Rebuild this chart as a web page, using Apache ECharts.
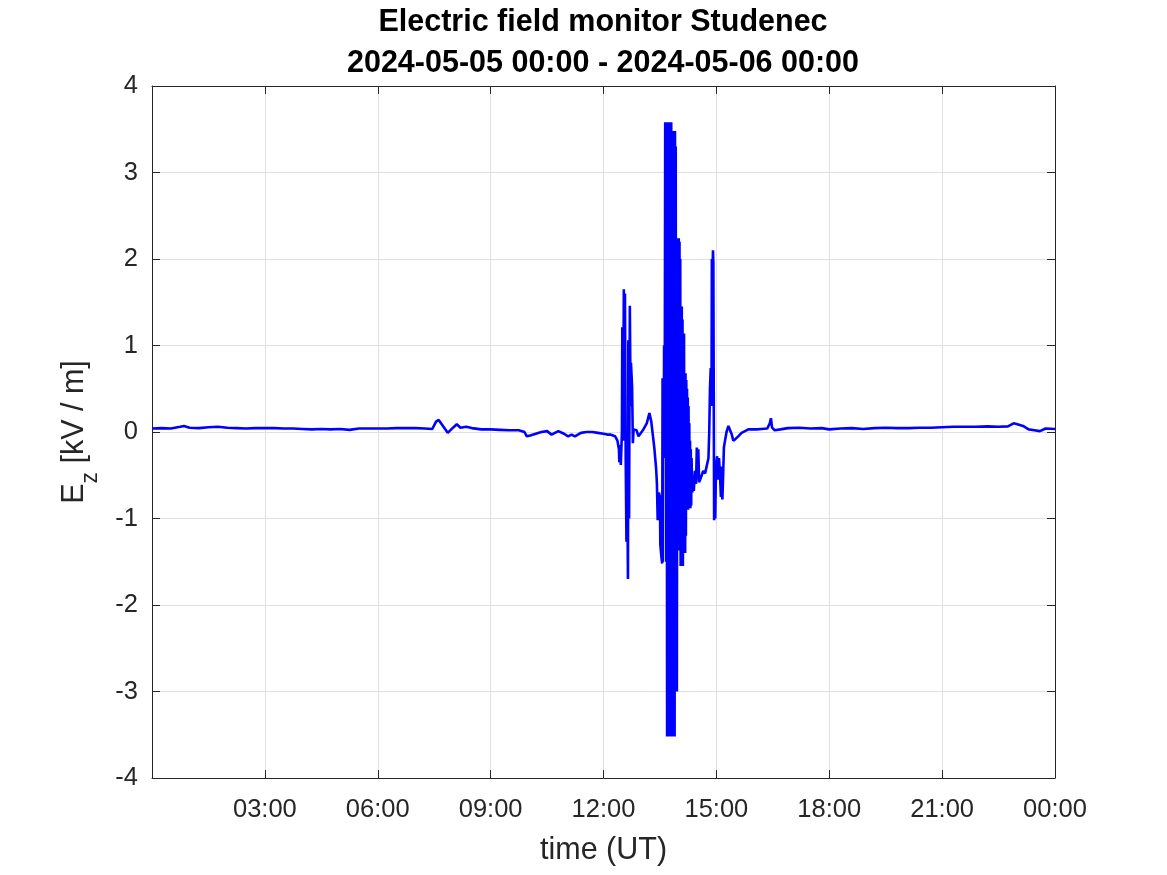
<!DOCTYPE html>
<html>
<head>
<meta charset="utf-8">
<script src="https://cdn.jsdelivr.net/npm/echarts@6/dist/echarts.min.js"></script>
<style>
html,body{margin:0;padding:0;background:#fff;}
#chart{width:1167px;height:875px;}
</style>
</head>
<body>
<div id="chart"></div>
<script>
// ---- DATA (hours UT, Ez in kV/m) ----
var titleLines = ['Electric field monitor Studenec', '2024-05-05 00:00 - 2024-05-06 00:00'];
var xTickHours = [0, 3, 6, 9, 12, 15, 18, 21, 24];
var yTicks = [-4, -3, -2, -1, 0, 1, 2, 3, 4];

var quietHoursA = [0.00,0.25,0.50,0.75,0.85,1.00,1.25,1.50,1.75,2.00,2.25,2.50,2.75,3.00,3.25,3.50,3.75,4.00,4.25,4.50,4.75,5.00,5.25,5.50,5.75,6.00,6.25,6.50,6.75,7.00,7.25,7.45,7.55,7.62,7.70,7.86,8.00,8.10,8.20,8.35,8.50,8.75,9.00,9.25,9.50,9.75,9.90,9.96,10.05,10.20,10.35,10.50,10.62,10.80,10.95,11.06,11.15,11.24,11.40,11.55,11.70,11.85,12.00,12.10];
var quietEzA    = [0.04,0.045,0.04,0.06,0.07,0.05,0.045,0.055,0.06,0.05,0.045,0.04,0.045,0.045,0.045,0.04,0.04,0.035,0.03,0.035,0.03,0.035,0.025,0.04,0.04,0.04,0.04,0.045,0.045,0.045,0.04,0.035,0.12,0.14,0.09,-0.01,0.05,0.09,0.05,0.06,0.045,0.03,0.03,0.025,0.02,0.02,0.0,-0.05,-0.04,-0.02,0.0,0.01,-0.03,0.01,-0.02,-0.05,-0.03,-0.05,-0.01,0.0,0.0,-0.01,-0.02,-0.03];

var stormHours = [12.18,12.31,12.37,12.41,12.42,12.44,12.46,12.49,12.50,12.52,12.54,12.56,12.57,12.59,12.61,12.63,12.65,12.66,12.68,12.70,12.72,12.73,12.76,12.78,12.80,12.84,12.88,12.93,12.97,13.06,13.15,13.22,13.27,13.31,13.35,13.40,13.42,13.44,13.47,13.50,13.51,13.54,13.56,13.57,13.58,13.59,13.60,13.61,13.62,13.63,
  13.640,13.650,13.660,13.670,13.680,13.690,13.700,13.710,13.720,13.730,13.740,13.750,13.760,13.770,13.780,13.790,13.800,13.810,13.820,13.830,13.840,13.850,13.860,13.870,13.880,13.890,13.900,13.910,13.920,13.930,13.940,13.950,13.960,13.970,13.980,13.990,14.000,14.010,14.020,14.030,14.040,14.050,14.060,14.070,14.080,14.090,14.100,14.110,14.120,14.130,14.140,14.150,14.160,14.170,14.180,14.190,14.200,14.210,14.220,14.230,14.240,14.250,14.260,14.270,14.280,14.290,14.300,14.310,14.320,14.330,14.340,14.360,14.380,14.400,14.430,14.460,14.480,14.500,14.520,14.540,
  14.57,14.61,14.65,14.70,14.74,14.79,14.81,14.83,14.85,14.87,14.88,14.90,14.91,14.92,14.94,14.96,14.97,14.99,15.02,15.04,15.07,15.10,15.12,15.13,15.16,15.18,15.20,15.23,15.27,15.32,15.36,15.41,15.45,15.51,15.58,15.67,15.76,15.85,16.07];
var stormEz    = [-0.03,-0.05,-0.1,-0.2,-0.35,-0.15,-0.38,0.0,1.21,-0.1,1.65,0.0,1.6,-0.3,-1.27,-0.5,-1.70,1.06,-1.0,1.46,0.3,0.8,0.52,-0.13,0.03,0.02,0.02,-0.05,-0.03,0.03,0.1,0.22,0.12,0.1,-0.18,-0.43,-0.6,-1.02,-0.7,-0.75,-1.3,-1.45,-1.52,0.62,-1.5,0.62,-0.3,1.0,-0.3,1.0,
  3.58,-0.3,3.58,-1.5,3.58,-3.52,3.58,-3.52,3.58,-3.52,3.58,-3.52,3.58,-3.52,3.58,-3.52,3.58,-3.52,3.48,-3.52,3.48,-3.52,3.48,-3.52,3.48,-3.52,3.48,-3.0,3.3,-3.0,1.66,-3.0,1.84,-0.65,2.24,-1.37,2.24,-1.37,2.2,-1.37,2.0,-1.55,1.45,-1.55,1.45,-1.55,1.3,-1.55,1.14,-1.40,1.14,-1.40,0.68,-1.40,0.68,-1.2,0.6,-0.9,0.5,-0.9,0.4,-0.9,0.3,-0.88,0.1,-0.88,-0.1,-0.88,-0.2,-0.85,-0.3,-0.7,-0.5,-0.68,-0.45,-0.6,-0.18,-0.55,-0.2,-0.58,
  -0.55,-0.5,-0.45,-0.48,-0.4,-0.3,0.0,0.5,0.74,0.3,2.0,1.9,2.1,1.95,-1.02,-0.5,-1.0,-0.4,-0.28,-0.55,-0.3,-0.53,-0.75,-0.4,-0.78,-0.5,-0.18,-0.1,0.0,0.07,0.08,-0.03,-0.1,-0.08,-0.05,-0.01,0.01,0.03,0.03];

var quietHoursB = [16.20,16.35,16.42,16.45,16.48,16.55,16.70,16.90,17.20,17.50,17.80,18.00,18.30,18.60,18.90,19.20,19.50,19.80,20.10,20.40,20.70,21.00,21.30,21.60,21.90,22.20,22.50,22.75,22.90,23.00,23.15,23.30,23.45,23.60,23.75,24.00];
var quietEzB    = [0.035,0.04,0.1,0.16,0.05,0.02,0.03,0.045,0.05,0.04,0.045,0.03,0.04,0.045,0.035,0.045,0.05,0.045,0.045,0.05,0.05,0.055,0.06,0.06,0.06,0.065,0.06,0.065,0.1,0.09,0.07,0.03,0.02,0.01,0.04,0.035];

// ---- build series data ----
function pairs(h, v){ var out=[]; for (var i=0;i<h.length;i++) out.push([h[i], v[i]]); return out; }
var seriesData = pairs(quietHoursA, quietEzA).concat(pairs(stormHours, stormEz), pairs(quietHoursB, quietEzB));

function pad2(n){ return (n<10?'0':'')+n; }
var FONT = '"Liberation Sans", Arial, Helvetica, sans-serif';
var AX = '#262626';

var chart = echarts.init(document.getElementById('chart'), null, {renderer:'canvas'});
var xCommon = {
  type:'value', min:xTickHours[0], max:xTickHours[xTickHours.length-1], interval:3,
  axisLine:{show:true, onZero:false, lineStyle:{color:AX, width:1}},
  axisTick:{show:true, inside:true, length:8, lineStyle:{color:AX}},
  splitLine:{show:false}
};
var yCommon = {
  type:'value', min:yTicks[0], max:yTicks[yTicks.length-1], interval:1,
  axisLine:{show:true, onZero:false, lineStyle:{color:AX, width:1}},
  axisTick:{show:true, inside:true, length:8, lineStyle:{color:AX}},
  splitLine:{show:false}
};
chart.setOption({
  animation:false,
  backgroundColor:'#ffffff',
  title:{
    text: titleLines.join('\n'),
    left:603, top:2, textAlign:'center', padding:0,
    textStyle:{fontFamily:FONT, fontSize:30.5, fontWeight:'bold', color:'#000', lineHeight:41}
  },
  grid:{left:152, right:112, top:86, bottom:97, containLabel:false},
  xAxis:[
    Object.assign({}, xCommon, {
      position:'bottom',
      splitLine:{show:true, lineStyle:{color:'#e0e0e0', width:1}},
      axisLabel:{show:true, color:AX, fontFamily:FONT, fontSize:25.5, margin:19,
        formatter:function(v){ return v===0 ? '' : pad2(v%24)+':00'; }},
      name:'time (UT)', nameLocation:'middle', nameGap:57, nameMoveOverlap:false,
      nameTextStyle:{fontFamily:FONT, fontSize:30.5, color:AX}
    }),
    Object.assign({}, xCommon, {position:'top', axisLabel:{show:false}})
  ],
  yAxis:[
    Object.assign({}, yCommon, {
      position:'left',
      splitLine:{show:true, lineStyle:{color:'#e0e0e0', width:1}},
      axisLabel:{show:true, color:AX, fontFamily:FONT, fontSize:25.5, margin:14},
      name:'{e|E}{s|z}{e| [kV / m]}', nameLocation:'middle', nameRotate:90, nameGap:50, nameMoveOverlap:false,
      nameTextStyle:{fontFamily:FONT, color:AX,
        rich:{
          e:{fontFamily:FONT, fontSize:30.5, color:AX},
          s:{fontFamily:FONT, fontSize:23, color:AX, padding:[32,0,0,0]}
        }}
    }),
    Object.assign({}, yCommon, {position:'right', axisLabel:{show:false}})
  ],
  series:[{
    type:'line', data:seriesData, showSymbol:false, symbol:'none',
    xAxisIndex:0, yAxisIndex:0,
    lineStyle:{color:'#0000ff', width:2.6}, itemStyle:{color:'#0000ff'},
    sampling:null, clip:true, z:3
  }]
});
</script>
</body>
</html>
